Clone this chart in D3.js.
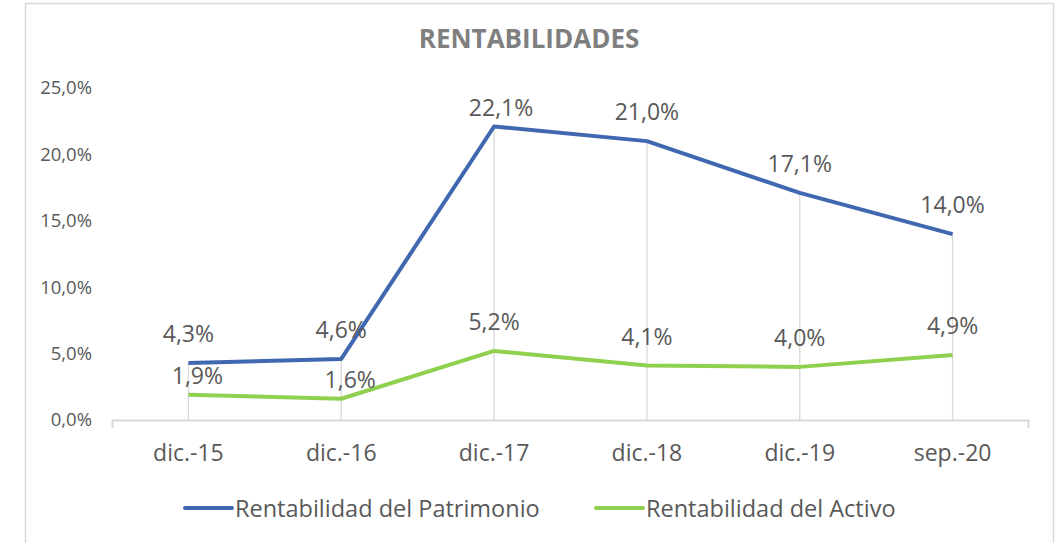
<!DOCTYPE html>
<html>
<head>
<meta charset="utf-8">
<script src="https://cdn.jsdelivr.net/npm/d3@7"></script>
<style>
body { margin: 0; background: #fff; }
svg { display: block; }
</style>
</head>
<body>
<svg id="chart" width="1059" height="543"></svg>
<script>
var categories = ["dic.-15", "dic.-16", "dic.-17", "dic.-18", "dic.-19", "sep.-20"];
var patrimonio = [4.3, 4.6, 22.1, 21.0, 17.1, 14.0];
var activo = [1.9, 1.6, 5.2, 4.1, 4.0, 4.9];
var yTicks = [0, 5, 10, 15, 20, 25];

var FONT = "'Open Sans', 'Noto Sans', sans-serif";
var TEXT_COLOR = "#595959";
var GRID_COLOR = "#d9d9d9";

var series = [
	{ name: "Rentabilidad del Patrimonio", values: patrimonio, color: "#4068b0" },
	{ name: "Rentabilidad del Activo", values: activo, color: "#8fd14f" }
];

var svg = d3.select("#chart");

// chart border
svg.append("rect")
	.attr("x", 25.5).attr("y", 3.5)
	.attr("width", 1028).attr("height", 560)
	.attr("fill", "#fff")
	.attr("stroke", GRID_COLOR)
	.attr("stroke-width", 1.5);

var x = d3.scaleBand().domain(categories).range([112, 1029]);
var y = d3.scaleLinear().domain([0, 25]).range([420, 88]);

function fmt(v) {
	return v.toFixed(1).replace(".", ",") + "%";
}

svg.append("text")
	.attr("x", 529).attr("y", 38)
	.attr("text-anchor", "middle")
	.attr("dominant-baseline", "central")
	.attr("font-family", FONT)
	.attr("font-size", "26px")
	.attr("font-weight", "bold")
	.attr("fill", "#7f7f7f")
	.text("RENTABILIDADES");

// y axis labels (no line)
var yAxis = svg.append("g")
	.attr("transform", "translate(92,0)")
	.call(d3.axisLeft(y).tickValues(yTicks).tickSize(0).tickPadding(0).tickFormat(fmt));
yAxis.select(".domain").remove();
yAxis.selectAll("text")
	.attr("font-family", FONT)
	.attr("font-size", "18.5px")
	.attr("fill", TEXT_COLOR);

// drop lines from highest point down to axis
svg.append("g").selectAll("line")
	.data(categories)
	.enter().append("line")
	.attr("x1", function(c) { return x(c) + x.bandwidth() / 2; })
	.attr("x2", function(c) { return x(c) + x.bandwidth() / 2; })
	.attr("y1", function(c, i) { return y(d3.max(series, function(s) { return s.values[i]; })); })
	.attr("y2", y(0))
	.attr("stroke", GRID_COLOR)
	.attr("stroke-width", 1.3);

// x axis
var xAxis = svg.append("g")
	.attr("transform", "translate(0," + y(0) + ")")
	.call(d3.axisBottom(x).tickSize(0).tickPadding(25));
xAxis.select(".domain")
	.attr("d", "M112.5,8V0.5H1028.5V8")
	.attr("stroke", GRID_COLOR)
	.attr("stroke-width", 2)
	.attr("fill", "none");
xAxis.selectAll("text")
	.attr("font-family", FONT)
	.attr("font-size", "23px")
	.attr("fill", TEXT_COLOR);

var line = d3.line()
	.x(function(d, i) { return x(categories[i]) + x.bandwidth() / 2; })
	.y(function(d) { return y(d); });

series.forEach(function(s) {
	svg.append("path")
		.datum(s.values)
		.attr("fill", "none")
		.attr("stroke", s.color)
		.attr("stroke-width", 4)
		.attr("stroke-linejoin", "round")
		.attr("d", line);
});

// data labels above points; nudge when the two series sit close together
series.forEach(function(s, si) {
	svg.append("g").selectAll("text")
		.data(s.values)
		.enter().append("text")
		.attr("x", function(d, i) {
			var cx = x(categories[i]) + x.bandwidth() / 2;
			if(si === 1 && Math.abs(patrimonio[i] - d) < 3.5) { cx += 9; }
			if(y(d) - 30 < 107) { cx += 7; }
			return cx;
		})
		.attr("y", function(d, i) {
			var cy = y(d) - 30;
			if(si === 1 && Math.abs(patrimonio[i] - d) < 3.5) { cy = y(d) - 20; }
			return Math.max(cy, 107);
		})
		.attr("text-anchor", "middle")
		.attr("dominant-baseline", "central")
		.attr("font-family", FONT)
		.attr("font-size", "23px")
		.attr("fill", TEXT_COLOR)
		.text(fmt);
});

// legend
var legend = svg.append("g");
var legendX = [185, 596];
series.forEach(function(s, i) {
	legend.append("line")
		.attr("x1", legendX[i]).attr("x2", legendX[i] + 47)
		.attr("y1", 508).attr("y2", 508)
		.attr("stroke", s.color)
		.attr("stroke-width", 4)
		.attr("stroke-linecap", "round");
	legend.append("text")
		.attr("x", legendX[i] + 50).attr("y", 508)
		.attr("dominant-baseline", "central")
		.attr("font-family", FONT)
		.attr("font-size", "23.5px")
		.attr("fill", TEXT_COLOR)
		.text(s.name);
});
</script>
</body>
</html>
